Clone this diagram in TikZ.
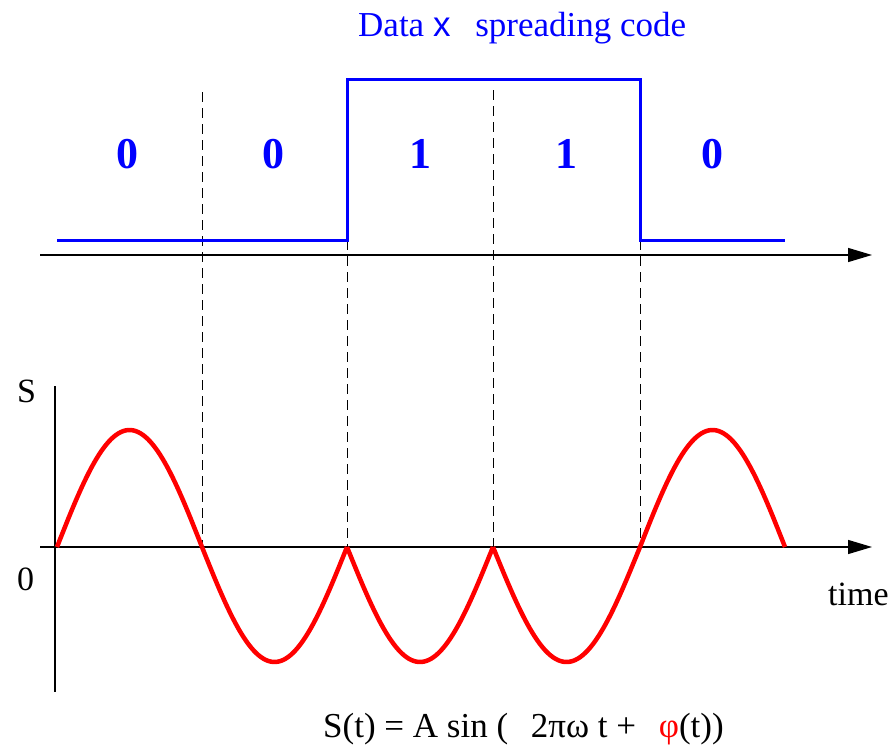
\documentclass[tikz,border=0pt]{standalone}
\usepackage{fontspec}
\setmainfont{Liberation Serif}
\newfontfamily\helv{Liberation Sans}
\usetikzlibrary{arrows.meta}
\definecolor{dblue}{RGB}{0,0,255}
\definecolor{dred}{RGB}{255,0,0}
\begin{document}
\begin{tikzpicture}[x=1pt,y=-1pt,
  axis/.style={line width=1.3pt,-{Triangle[length=24pt,width=14pt]}},
  plainaxis/.style={line width=1.3pt},
  guide/.style={line width=1pt,dash pattern=on 10pt off 6pt},
  datasig/.style={dblue,line width=3pt},
  carrier/.style={dred,line width=4.5pt,line join=round},
  bit/.style={text=dblue,font=\fontsize{44}{50}\selectfont\bfseries,anchor=base},
  lbl/.style={font=\fontsize{34}{40}\selectfont,anchor=base west,inner sep=0pt}]
\useasboundingbox (0,0) rectangle (889,747);
% guides
\draw[guide] (202,92) -- (202,547);
\draw[guide] (347,240) -- (347,547);
\draw[guide] (493,90) -- (493,547);
\draw[guide] (640,240) -- (640,547);
% top axis
\draw[axis] (40,255) -- (872,255);
% data signal
\draw[datasig] (57,240) -- (347,240) -- (347,79) -- (640,79) -- (640,240) -- (785,240);
% bits
\node[bit] (b1) at (127,168) {0};
\node[bit] (b2) at (273,168) {0};
\node[bit] (b3) at (420,168) {1};
\node[bit] (b4) at (566,168) {1};
\node[bit] (b5) at (712,168) {0};
% title
\node[text=dblue,font=\fontsize{35}{42}\selectfont,anchor=base west,inner sep=0pt] (title) at (358,36) {Data {\helv x}\hspace{16pt} spreading code};
% lower axes
\draw[axis] (40,547) -- (872,547);
\draw[plainaxis] (55,386) -- (55,692);
% carrier
\draw[carrier] plot[domain=0:180,samples=60] ({57+\x/180*145},{547-117*sin(\x)});
\draw[carrier] plot[domain=0:180,samples=60] ({202+\x/180*145},{547+115*sin(\x)});
\draw[carrier] plot[domain=0:180,samples=60] ({347+\x/180*146},{547+115*sin(\x)});
\draw[carrier] plot[domain=0:180,samples=60] ({493+\x/180*147},{547+115*sin(\x)});
\draw[carrier] plot[domain=0:180,samples=60] ({640+\x/180*145},{547-117*sin(\x)});
% labels
\node[lbl] (s) at (17,402) {S};
\node[lbl] (zero) at (17,590) {0};
\node[lbl] (time) at (828,605) {time};
\node[lbl,font=\fontsize{35}{42}\selectfont] (formula) at (323,737) {S(t) = A sin (\hspace{14pt} 2πω t +\hspace{14pt} {\color{dred}φ}(t))};
\end{tikzpicture}
\end{document}
